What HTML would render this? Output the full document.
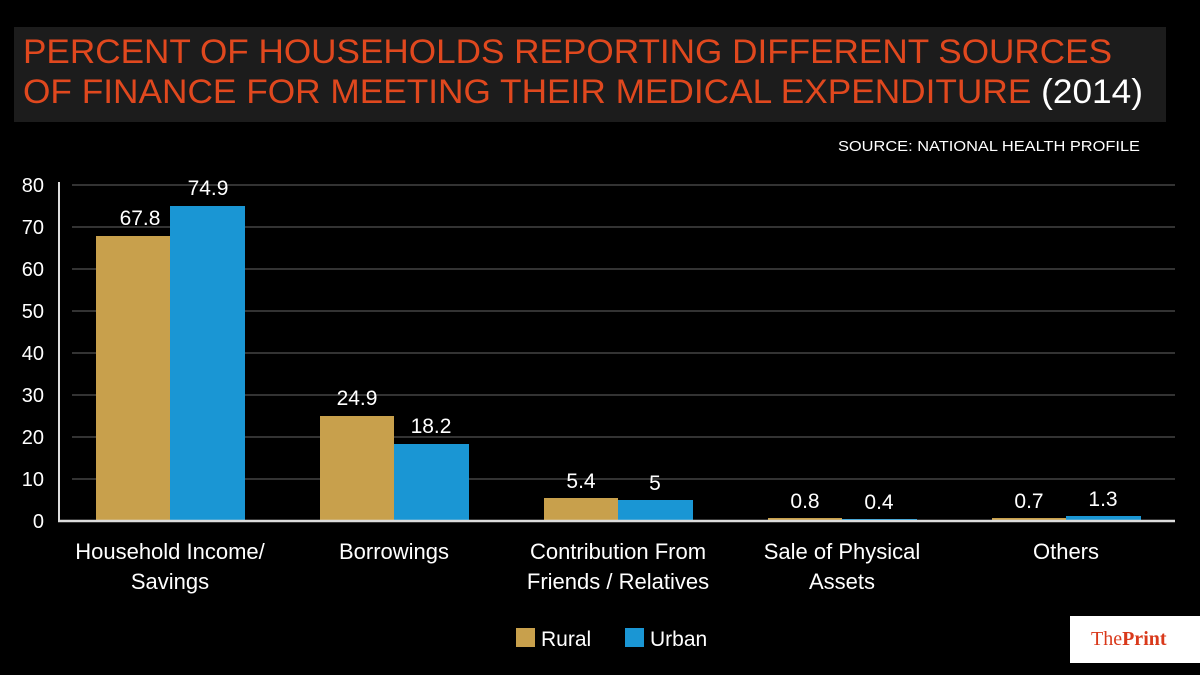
<!DOCTYPE html>
<html><head><meta charset="utf-8"><style>
body{margin:0;background:#000;}
svg{display:block}
</style></head><body>
<svg width="1200" height="675" xmlns="http://www.w3.org/2000/svg" font-family="Liberation Sans, sans-serif">
<rect width="1200" height="675" fill="#000"/>
<rect x="14" y="27" width="1152" height="95" fill="#1c1c1c"/>
<text x="23" y="63" font-size="34" fill="#e0481e" textLength="1089" lengthAdjust="spacingAndGlyphs">PERCENT OF HOUSEHOLDS REPORTING DIFFERENT SOURCES</text>
<text x="23" y="103" font-size="34" fill="#e0481e" textLength="1120" lengthAdjust="spacingAndGlyphs">OF FINANCE FOR MEETING THEIR MEDICAL EXPENDITURE <tspan fill="#fff">(2014)</tspan></text>
<text x="838" y="151" font-size="15" fill="#fff" textLength="302" lengthAdjust="spacingAndGlyphs">SOURCE: NATIONAL HEALTH PROFILE</text>
<g stroke="#666" stroke-width="1">
<line x1="72" y1="185" x2="1175" y2="185"/><line x1="72" y1="227" x2="1175" y2="227"/>
<line x1="72" y1="269" x2="1175" y2="269"/><line x1="72" y1="311" x2="1175" y2="311"/>
<line x1="72" y1="353" x2="1175" y2="353"/><line x1="72" y1="395" x2="1175" y2="395"/>
<line x1="72" y1="437" x2="1175" y2="437"/><line x1="72" y1="479" x2="1175" y2="479"/>
</g>
<line x1="59" y1="182" x2="59" y2="522" stroke="#ddd" stroke-width="2"/>
<g font-size="20" fill="#fff" text-anchor="end">
<text x="44" y="192">80</text><text x="44" y="234">70</text><text x="44" y="276">60</text>
<text x="44" y="318">50</text><text x="44" y="360">40</text><text x="44" y="402">30</text>
<text x="44" y="444">20</text><text x="44" y="486">10</text><text x="44" y="528">0</text>
</g>
<g fill="#c8a04c">
<rect x="96" y="236" width="74" height="285"/>
<rect x="320" y="416" width="74" height="105"/>
<rect x="544" y="498" width="74" height="23"/>
<rect x="768" y="518" width="74" height="3"/>
<rect x="992" y="518" width="74" height="3"/>
</g>
<g fill="#1a96d4">
<rect x="170" y="206" width="75" height="315"/>
<rect x="394" y="444" width="75" height="77"/>
<rect x="618" y="500" width="75" height="21"/>
<rect x="842" y="519" width="75" height="2"/>
<rect x="1066" y="516" width="75" height="5"/>
</g>
<line x1="58" y1="521" x2="1175" y2="521" stroke="#ddd" stroke-width="2.5"/>
<g font-size="21" fill="#fff" text-anchor="middle">
<text x="140" y="225">67.8</text><text x="208" y="195">74.9</text>
<text x="357" y="405">24.9</text><text x="431" y="433">18.2</text>
<text x="581" y="488">5.4</text><text x="655" y="490">5</text>
<text x="805" y="508">0.8</text><text x="879" y="509">0.4</text>
<text x="1029" y="508">0.7</text><text x="1103" y="506">1.3</text>
</g>
<g font-size="22" fill="#fff" text-anchor="middle">
<text x="170" y="559">Household Income/</text><text x="170" y="589">Savings</text>
<text x="394" y="559">Borrowings</text>
<text x="618" y="559">Contribution From</text><text x="618" y="589">Friends / Relatives</text>
<text x="842" y="559">Sale of Physical</text><text x="842" y="589">Assets</text>
<text x="1066" y="559">Others</text>
</g>
<rect x="516" y="628" width="19" height="19" fill="#c8a04c"/>
<text x="541" y="646" font-size="21" fill="#fff">Rural</text>
<rect x="625" y="628" width="19" height="19" fill="#1a96d4"/>
<text x="650" y="646" font-size="21" fill="#fff">Urban</text>
<rect x="1070" y="616" width="130" height="47" fill="#fff"/>
<text x="1091" y="645" font-size="20" fill="#d9391b" font-family="Liberation Serif, serif">The<tspan font-weight="bold">Print</tspan></text>
</svg>
</body></html>
